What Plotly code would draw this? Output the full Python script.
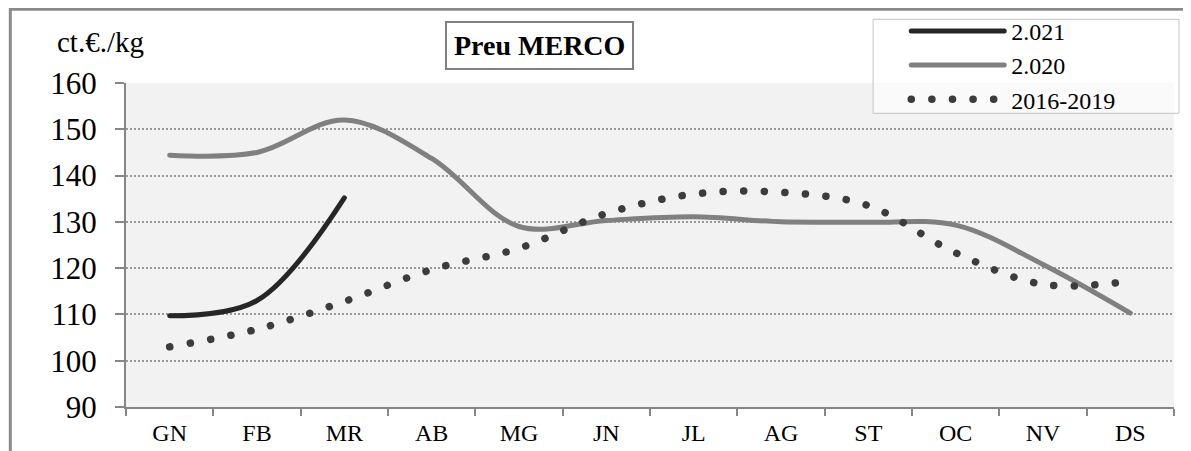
import plotly.graph_objects as go

months = ["GN", "FB", "MR", "AB", "MG", "JN", "JL", "AG", "ST", "OC", "NV", "DS"]
y_2021 = [109.7, 113.0, 135.2]
y_2020 = [144.4, 145.0, 152.0, 143.7, 129.0, 130.3, 131.1, 130.0, 129.9, 129.3, 120.8, 110.3]
y_1619 = [103.0, 106.8, 112.8, 119.7, 124.3, 131.8, 136.0, 136.4, 133.5, 123.3, 116.5, 117.2]
names = ["2.021", "2.020", "2016-2019"]
y_ticks = [90, 100, 110, 120, 130, 140, 150, 160]

FONT = "Liberation Serif"
AX = "#868686"

fig = go.Figure()
fig.add_trace(go.Scatter(x=months[:len(y_2021)], y=y_2021, name=names[0], mode="lines",
                         line=dict(color="#262626", width=5, shape="spline")))
fig.add_trace(go.Scatter(x=months, y=y_2020, name=names[1], mode="lines",
                         line=dict(color="#808080", width=5, shape="spline")))
fig.add_trace(go.Scatter(x=months, y=y_1619, name=names[2], mode="lines",
                         line=dict(color="#3c3c3c", width=7.5, shape="spline", dash="0.1px,20.5px")))

# page body has an 8px margin: figure is laid out 8px up/left of the window coordinates
fig.update_layout(
    width=1183, height=443,
    margin=dict(l=118, r=17, t=75, b=44, autoexpand=False),
    paper_bgcolor="white", plot_bgcolor="#f2f2f2",
    font=dict(family=FONT, color="black"),
    showlegend=True,
    legend=dict(x=0.713, y=1.229, xanchor="left", yanchor="top",
                bgcolor="rgba(0,0,0,0)", borderwidth=0,
                font=dict(family=FONT, size=24, color="black"),
                itemwidth=128, tracegroupgap=0),
    xaxis=dict(type="category", categoryorder="array", categoryarray=months,
               range=[-0.5, 11.5], tickson="boundaries", ticks="outside", ticklen=7,
               tickwidth=2, tickcolor=AX, showline=True, linecolor=AX, linewidth=2,
               showgrid=False, tickfont=dict(family=FONT, size=24, color="black"),
               ticklabelstandoff=3),
    yaxis=dict(range=[90, 160], tickvals=y_ticks, ticks="outside", ticklen=9,
               tickwidth=2, tickcolor=AX, showline=True, linecolor=AX, linewidth=2,
               showgrid=True, gridcolor="#9a9a9a", gridwidth=1.5, griddash="2px,2px",
               zeroline=False, tickfont=dict(family=FONT, size=31, color="black"),
               ticklabelstandoff=12),
)

# legend box
fig.add_shape(type="rect", xref="paper", yref="paper",
              x0=0.7129, x1=1.0048, y0=0.9065, y1=1.1966,
              line=dict(color="#c4c4c4", width=1), fillcolor="rgba(255,255,255,0.6)", layer="above")
# outer chart border (top and left visible)
fig.add_shape(type="rect", xref="paper", yref="paper",
              x0=-0.1104, x1=1.04, y0=-0.2, y1=1.2275,
              line=dict(color="#8a8a8a", width=3), fillcolor="rgba(0,0,0,0)", layer="above")

fig.add_annotation(text="<b>Preu MERCO</b>", xref="paper", yref="paper",
                   x=0.395, y=1.116, xanchor="center", yanchor="middle", showarrow=False,
                   font=dict(family=FONT, size=28, color="black"),
                   bordercolor="#808080", borderwidth=2, borderpad=7, bgcolor="white")
fig.add_annotation(text="ct.€./kg", xref="paper", yref="paper",
                   x=-0.0245, y=1.1256, xanchor="center", yanchor="middle", showarrow=False,
                   font=dict(family=FONT, size=29, color="black"))

post = """
var gd = document.getElementById('{plot_id}');
function fixDots(){
  gd.querySelectorAll('path.js-line').forEach(function(p){ p.style.strokeLinecap = 'round'; });
  gd.querySelectorAll('g.legend g.traces').forEach(function(t){
    var txt = t.querySelector('text.legendtext');
    var tx = txt ? (parseFloat(txt.getAttribute('x')) || 40) : 40;
    t.querySelectorAll('.legendlines path').forEach(function(p){
      p.setAttribute('d', 'M' + (tx - 100) + ',0h93');
    });
  });
}
fixDots();
if (gd.on) { gd.on('plotly_afterplot', fixDots); }
setTimeout(fixDots, 30); setTimeout(fixDots, 300); setTimeout(fixDots, 1000);
"""

fig.write_html("out.html", post_script=post)
